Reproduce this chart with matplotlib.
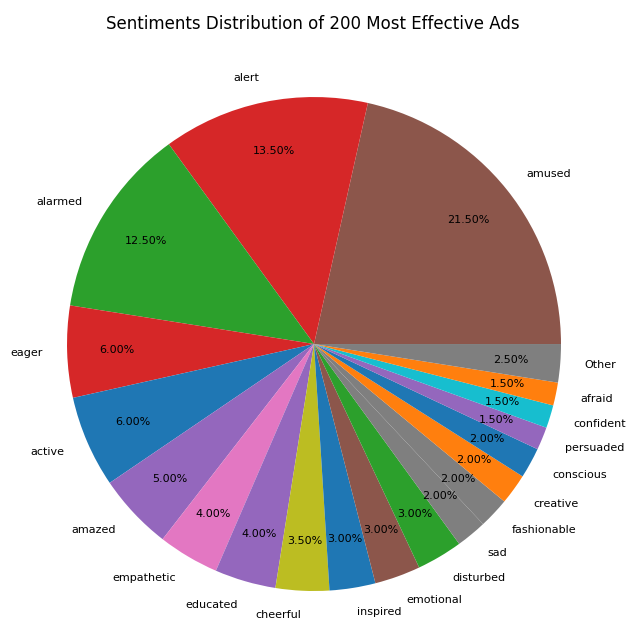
import matplotlib
matplotlib.use("Agg")
import matplotlib.pyplot as plt

# sentiment labels and their share (%) of the 200 ads
labels = ["amused", "alert", "alarmed", "eager", "active", "amazed", "empathetic",
          "educated", "cheerful", "inspired", "emotional", "disturbed", "sad",
          "fashionable", "creative", "conscious", "persuaded", "confident",
          "afraid", "Other"]
shares = [21.5, 13.5, 12.5, 6.0, 6.0, 5.0, 4.0, 4.0, 3.5, 3.0, 3.0, 3.0, 2.0,
          2.0, 2.0, 2.0, 1.5, 1.5, 1.5, 2.5]
colors = ["#8c564b", "#d62728", "#2ca02c", "#d62728", "#1f77b4", "#9467bd",
          "#e377c2", "#9467bd", "#bcbd22", "#1f77b4", "#8c564b", "#2ca02c",
          "#7f7f7f", "#7f7f7f", "#ff7f0e", "#1f77b4", "#9467bd", "#17becf",
          "#ff7f0e", "#7f7f7f"]

fig = plt.figure(figsize=(6.35, 6.31), dpi=100)
# pie uses limits of +-1.25, so the axes box is 2.5 radii wide
ax = fig.add_axes([0.0083, -0.0345, 0.9724, 0.9786])

ax.pie(shares, labels=labels, colors=colors, autopct="%1.2f%%",
       pctdistance=0.8, labeldistance=1.1, startangle=0,
       textprops={"fontsize": 8})
ax.set_aspect("equal")

fig.text(0.492, 0.962, "Sentiments Distribution of 200 Most Effective Ads",
         ha="center", va="center", fontsize=12)

fig.savefig("out.png", dpi=100)
